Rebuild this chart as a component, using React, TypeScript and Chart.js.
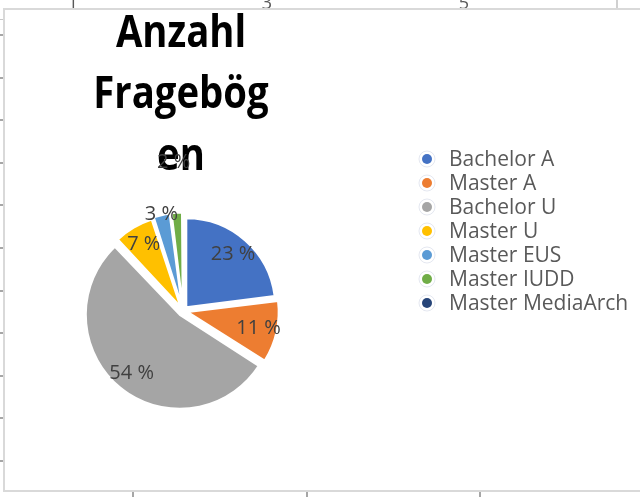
import React, { useEffect, useRef } from "react";
import { Chart, registerables } from "chart.js";

Chart.register(...registerables);

// ---- data ----
const categories = [
  "Bachelor A",
  "Master A",
  "Bachelor U",
  "Master U",
  "Master EUS",
  "Master IUDD",
  "Master MediaArch",
];
const shares = [23, 11, 54, 7, 3, 2, 0];
const sliceColors = ["#4472C4", "#ED7D31", "#A5A5A5", "#FFC000", "#5B9BD5", "#70AD47", "#264478"];
const titleLines = ["Anzahl", "Fragebög", "en"];
const rulerLabels = ["1", "3", "5"];

// ---- style / layout (not data) ----
const labelRadialFactor = [0.85, 0.87, 0.905, 0.866, 1.11, 1.67, 1.0];
const FONT = "'Open Sans', 'Liberation Sans', sans-serif";

const backgroundPlugin = {
  id: "sheetBackground",
  beforeDraw(chart: any) {
    const ctx = chart.ctx as CanvasRenderingContext2D;
    const W = chart.width;
    const H = chart.height;
    ctx.save();
    ctx.fillStyle = "#ffffff";
    ctx.fillRect(0, 0, W, H);
    // ruler digits peeking above the frame
    ctx.fillStyle = "#595959";
    ctx.font = `18px ${FONT}`;
    ctx.textAlign = "center";
    ctx.textBaseline = "alphabetic";
    const rx = [73, 267, 464];
    rulerLabels.forEach((t, i) => ctx.fillText(t, rx[i], 9));
    // vertical grid line at top right
    ctx.fillStyle = "#d0d0d0";
    ctx.fillRect(616, 0, 2, 10);
    // left ruler ticks
    ctx.fillStyle = "#c8c8c8";
    ctx.fillRect(0, 19, 3, 1);
    ctx.fillStyle = "#a6a6a6";
    [34, 77, 119, 162, 204, 247, 290, 332, 375, 417, 460].forEach((y) => ctx.fillRect(0, y, 3, 2));
    // bottom ruler ticks
    [133, 307, 480].forEach((x) => ctx.fillRect(x - 1, 492, 2, 5));
    // chart frame
    ctx.fillStyle = "#ffffff";
    ctx.fillRect(4, 9, W - 4, 482);
    ctx.strokeStyle = "#d9d9d9";
    ctx.lineWidth = 2;
    ctx.beginPath();
    ctx.moveTo(W + 2, 9);
    ctx.lineTo(4, 9);
    ctx.lineTo(4, 491);
    ctx.lineTo(W + 2, 491);
    ctx.stroke();
    ctx.restore();
  },
  beforeDatasetsDraw(chart: any) {
    // title
    const ctx = chart.ctx as CanvasRenderingContext2D;
    ctx.save();
    ctx.fillStyle = "#000000";
    ctx.font = `bold 44px ${FONT}`;
    ctx.textAlign = "center";
    ctx.textBaseline = "alphabetic";
    const cx = 181;
    const baselines = [47, 108, 170];
    const sx = 0.87;
    titleLines.forEach((t, i) => {
      ctx.save();
      ctx.translate(cx, baselines[i]);
      ctx.scale(sx, 1);
      ctx.fillText(t, 0, 0);
      ctx.restore();
    });
    ctx.restore();
  },
  afterDatasetsDraw(chart: any) {
    const ctx = chart.ctx as CanvasRenderingContext2D;
    const meta = chart.getDatasetMeta(0);
    const data = chart.data.datasets[0].data as number[];
    const total = data.reduce((a, b) => a + b, 0);
    ctx.save();
    ctx.fillStyle = "#404040";
    ctx.font = `20px ${FONT}`;
    ctx.textAlign = "center";
    ctx.textBaseline = "middle";
    meta.data.forEach((arc: any, i: number) => {
      const v = data[i];
      if (!v) return;
      const p = arc.getProps(["x", "y", "startAngle", "endAngle", "outerRadius"], true);
      const mid = (p.startAngle + p.endAngle) / 2;
      const r = p.outerRadius * labelRadialFactor[i];
      const pct = Math.round((v / total) * 100);
      ctx.fillText(`${pct} %`, p.x + Math.cos(mid) * r, p.y + Math.sin(mid) * r);
    });
    ctx.restore();

    // legend
    ctx.save();
    ctx.font = `21px ${FONT}`;
    ctx.textAlign = "left";
    ctx.textBaseline = "middle";
    const labels = chart.data.labels as string[];
    const colors = chart.data.datasets[0].backgroundColor as string[];
    labels.forEach((lab, i) => {
      const y = 159 + i * 24;
      ctx.beginPath();
      ctx.arc(427, y, 8, 0, Math.PI * 2);
      ctx.strokeStyle = "rgba(210,215,230,0.6)";
      ctx.lineWidth = 1;
      ctx.stroke();
      ctx.beginPath();
      ctx.arc(427, y, 5, 0, Math.PI * 2);
      ctx.fillStyle = colors[i];
      ctx.fill();
      ctx.fillStyle = "#595959";
      ctx.fillText(lab, 449, y + 1);
    });
    ctx.restore();
  },
};

export default function App() {
  const ref = useRef<HTMLCanvasElement | null>(null);
  useEffect(() => {
    if (!ref.current) return;
    const chart = new Chart(ref.current, {
      type: "pie",
      data: {
        labels: categories,
        datasets: [
          {
            data: shares,
            backgroundColor: sliceColors,
            borderColor: "#ffffff",
            borderWidth: 2,
            offset: 20,
          },
        ],
      },
      options: {
        responsive: false,
        animation: false,
        radius: 89,
        layout: { padding: { left: 73, right: 347, top: 211, bottom: 86 } },
        plugins: {
          legend: { display: false },
          title: { display: false },
          tooltip: { enabled: false },
        },
      } as any,
      plugins: [backgroundPlugin],
    });
    return () => chart.destroy();
  }, []);
  return (
    <div style={{ position: "fixed", left: 0, top: 0, width: 640, height: 497, background: "#fff" }}>
      <canvas ref={ref} width={640} height={497} />
    </div>
  );
}
